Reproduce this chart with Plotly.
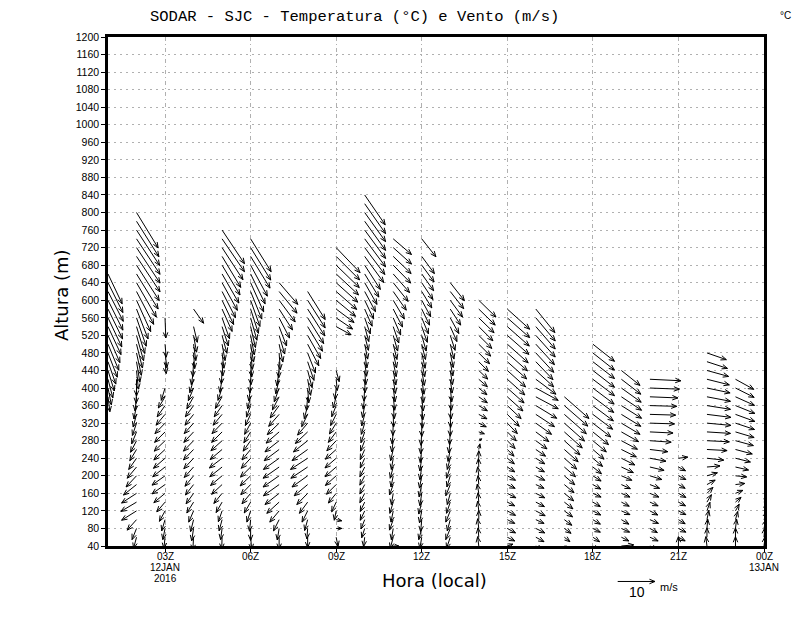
"""SODAR SJC wind profile (vectors by hour and height), GrADS-style look."""

import math

import plotly.graph_objects as go

# hour of each profile column (01Z 12JAN .. 00Z 13JAN = 24)
HOURS = [1, 2, 3, 4, 5, 6, 7, 8, 9, 10, 11, 12,
         13, 14, 15, 16, 17, 18, 19, 20, 21, 22, 23, 24]

# SODAR gate heights (m)
LEVELS_M = [40, 60, 80, 100, 120, 140, 160, 180, 200, 220, 240, 260, 280, 300,
            320, 340, 360, 380, 400, 420, 440, 460, 480, 500, 520, 540, 560,
            580, 600, 620, 640, 660, 680, 700, 720, 740, 760, 780, 800, 820, 840]

# lowest gate drawn in each column
COLUMN_BASE_M = [380, 40, 40, 40, 40, 40, 40, 40, 40, 40, 40, 40,
                 40, 40, 40, 40, 40, 40, 40, 40, 40, 40, 40, 40]

# u / v components (m/s), from the base gate upwards, None = no data
U01 = [0.5, 0.9, 1.3, 1.7, 2.1, 2.5, 2.9, 3.2, 3.5, 3.7, 3.9, 4.0, 4.1, 4.0, 3.8]
V01 = [-4.0, -4.5, -5.0, -5.5, -6.0, -6.5, -7.0, -7.3, -7.5, -7.8, -8.0, -8.0, -8.0, -8.0, -8.0]

U02 = [-0.5, -0.8, -1.2, -2.5, -4.0, -4.2, -4.0, -3.5, -2.8, -2.5, -2.1, -1.8, -1.6,
       -1.3, -1.1, -0.9, -0.7, -0.4, -0.1, 0.0, 0.5, 0.9, 1.3, 1.6, 1.9, 2.2, 2.6,
       3.1, 3.8, 4.6, 5.3, 5.8, 6.1, 6.3, 6.3, 6.3, 6.2, 6.0, 5.8]
V02 = [-3.0, -3.0, -3.0, -2.8, -2.5, -2.5, -2.6, -2.8, -3.0, -3.0, -3.0, -3.0, -3.1,
       -3.2, -3.3, -3.4, -3.6, -3.8, -4.1, -4.5, -5.0, -5.5, -6.0, -6.4, -6.8, -7.2,
       -7.6, -8.0, -8.4, -8.8, -9.2, -9.4, -9.5, -9.5, -9.5, -9.5, -9.5, -9.5, -9.5]

U03 = [-0.2, -0.3, -0.6, -0.9, -1.5, -2.2, -3.0, -3.5, -3.5, -3.3, -3.1, -3.0, -2.9,
       -2.8, -2.7, -2.4, -2.1, -1.8, -1.0, None, None, 0.3, 0.5, 0.3, None, None, 0.2]
V03 = [-3.0, -3.0, -3.0, -3.0, -2.8, -2.6, -2.5, -2.5, -2.5, -2.6, -2.7, -2.8, -2.8,
       -2.8, -2.8, -2.9, -3.0, -3.0, -3.3, None, None, -3.2, -4.0, -3.5, None, None, -5.4]

U04 = [0.0, -0.2, -0.5, -0.8, -1.3, -1.8, -2.0, -2.2, -2.3, -2.5, -2.6, -2.7, -2.7,
       -2.6, -2.5, -2.3, -2.2, -1.8, -1.4, -1.0, -0.6, -0.2, 0.3, 0.6, 0.8, 1.0, None, 2.7]
V04 = [-3.5, -3.5, -3.3, -3.2, -3.0, -2.9, -2.8, -2.8, -2.8, -2.8, -2.8, -2.8, -2.8,
       -2.8, -2.8, -2.9, -3.0, -3.2, -3.4, -3.6, -3.8, -4.0, -4.2, -4.4, -4.5, -4.2, None, -3.8]

U05 = [0.0, -0.1, -0.4, -0.8, -1.0, -1.6, -2.2, -2.8, -3.1, -3.3, -3.4, -3.2, -3.0,
       -2.8, -2.7, -2.4, -2.1, -1.8, -1.1, -0.6, -0.2, 0.2, 0.5, 0.8, 1.3, 1.7, 2.0,
       2.7, 3.1, 3.6, 4.1, 4.5, 4.8, 5.0, 5.6, 6.0, 6.0]
V05 = [-3.3, -3.2, -3.0, -3.0, -2.9, -2.8, -2.7, -2.6, -2.6, -2.6, -2.6, -2.7, -2.7,
       -2.8, -2.8, -2.9, -3.0, -3.1, -3.3, -3.5, -3.6, -3.8, -4.1, -4.4, -4.8, -5.2,
       -5.6, -6.0, -6.5, -7.0, -7.4, -7.8, -8.0, -8.3, -8.6, -8.8, -9.0]

U06 = [0.2, 0.3, 0.0, -0.3, -1.0, -1.7, -2.3, -2.6, -2.8, -2.7, -2.5, -2.3, -2.0,
       -1.8, -1.6, -1.4, -1.1, -0.8, -0.5, -0.2, 0.1, 0.3, 0.5, 0.8, 1.0, 1.3, 1.7,
       2.1, 2.5, 3.0, 3.5, 3.9, 4.5, 5.2, 5.4, 5.5]
V06 = [-3.3, -3.3, -3.2, -3.1, -3.0, -2.9, -2.8, -2.7, -2.7, -2.7, -2.7, -2.8, -2.8,
       -2.9, -3.0, -3.0, -3.1, -3.2, -3.4, -3.6, -3.8, -4.1, -4.4, -4.8, -5.2, -5.6,
       -6.0, -6.5, -7.0, -7.4, -7.8, -8.0, -8.3, -8.5, -8.7, -8.8]

U07 = [0.3, 0.0, -0.5, -1.5, -2.5, -3.3, -3.8, -4.2, -4.3, -4.3, -4.2, -4.0, -3.8,
       -3.5, -3.2, -2.8, -2.4, -1.8, -1.3, -0.9, -0.6, -0.1, 0.3, 1.0, 1.5, 2.0, 2.8,
       3.6, 4.3, 4.8, 5.0]
V07 = [-3.2, -3.2, -3.1, -3.0, -3.0, -3.0, -3.0, -3.0, -3.0, -3.0, -3.0, -3.0, -3.0,
       -3.0, -3.1, -3.2, -3.3, -3.5, -3.7, -3.9, -4.1, -4.3, -4.5, -4.8, -5.0, -5.2,
       -5.4, -5.6, -5.8, -5.8, -5.8]

U08 = [0.2, 0.0, -0.2, -0.8, -1.5, -2.2, -2.9, -3.6, -4.2, -4.5, -4.6, -4.2, -3.8,
       -3.3, -2.7, -1.6, -0.9, -0.3, 0.3, 0.8, 1.2, 1.7, 2.1, 3.0, 3.5, 4.0, 4.3,
       4.6, 4.7, 4.7]
V08 = [-2.8, -2.8, -2.8, -2.9, -3.0, -3.0, -3.0, -3.0, -3.0, -3.0, -3.0, -3.0, -3.0,
       -3.1, -3.2, -3.3, -3.5, -3.7, -4.0, -4.3, -4.6, -5.0, -5.4, -5.8, -6.2, -6.6,
       -6.9, -7.2, -7.4, -7.5]

U09 = [0.3, 0.5, 1.5, 1.5, -0.5, -1.2, -2.1, -2.6, -2.9, -3.0, -3.0, -2.9, -2.5,
       -2.1, -1.8, -1.5, -1.2, -0.8, -0.3, 0.3, 0.8, None, None, None, None, 4.0,
       4.4, 4.8, 5.2, 5.5, 5.8, 6.0, 6.2, 6.3, 6.4]
V09 = [-2.5, -2.5, 0.0, -0.3, -2.5, -2.6, -2.6, -2.6, -2.6, -2.6, -2.6, -2.6, -2.7,
       -2.8, -2.9, -3.0, -3.0, -3.0, -3.0, -3.0, -3.0, None, None, None, None, -2.2,
       -3.0, -3.6, -4.3, -4.8, -5.2, -5.6, -6.0, -6.3, -6.7]

U10 = [0.5, -0.3, -0.8, -1.0, -1.2, -1.2, -1.3, -1.3, -1.3, -1.3, -1.2, -1.2, -1.1,
       -1.0, -0.9, -0.8, -0.6, -0.4, -0.2, 0.1, 0.3, 0.5, 0.6, 0.8, 1.0, 1.1, 1.5,
       2.0, 2.4, 2.9, 3.3, 3.8, 4.2, 5.1, 5.4, 5.6, 5.6, 5.6, 5.6, 5.6, 5.5]
V10 = [-2.5, -2.5, -2.5, -2.5, -2.5, -2.5, -2.5, -2.5, -2.5, -2.6, -2.6, -2.7, -2.8,
       -2.9, -3.0, -3.1, -3.2, -3.3, -3.5, -3.6, -3.8, -3.9, -4.0, -4.0, -4.0, -4.0,
       -4.3, -4.6, -5.0, -5.4, -5.8, -6.2, -6.5, -7.0, -7.2, -7.5, -7.6, -7.8, -7.8,
       -8.0, -8.0]

U11 = [1.5, -0.8, -0.5, -1.0, -0.6, -0.9, -0.5, -1.0, -0.6, -0.8, -0.5, -0.7, -0.4,
       -0.3, -0.1, 0.1, 0.3, 0.4, 0.5, 0.6, 0.7, 0.8, 0.9, 1.0, 1.2, 1.5, 2.0, 2.5,
       3.0, 3.5, 4.0, 4.4, 4.7, 4.8, 4.9, 4.9]
V11 = [0.0, -3.0, -3.0, -2.8, -3.0, -3.0, -3.0, -2.8, -3.0, -3.0, -3.0, -3.0, -3.0,
       -3.2, -3.3, -3.4, -3.5, -3.6, -3.7, -3.8, -3.9, -4.0, -4.0, -4.1, -4.2, -4.4,
       -4.6, -4.8, -5.0, -5.0, -5.0, -5.0, -4.8, -4.6, -4.4, -4.2]

U12 = [0.0, -0.5, -0.8, -0.3, -0.6, -0.8, -0.5, -0.7, -0.6, -0.5, -0.5, -0.4, -0.3,
       -0.2, 0.0, 0.2, 0.3, 0.4, 0.5, 0.6, 0.7, 0.8, 0.9, 1.0, 1.2, 1.5, 1.8, 2.1,
       2.4, 2.7, 3.0, 3.2, 3.3, 3.4, None, 3.8]
V12 = [-3.0, -3.0, -3.0, -3.2, -3.2, -3.2, -3.3, -3.3, -3.3, -3.4, -3.4, -3.5, -3.5,
       -3.6, -3.6, -3.7, -3.8, -3.8, -3.9, -4.0, -4.0, -4.0, -4.1, -4.1, -4.2, -4.2,
       -4.3, -4.3, -4.4, -4.4, -4.5, -4.5, -4.5, -4.6, None, -4.8]

U13 = [0.5, -1.0, -1.2, -0.8, -1.2, -1.0, -0.8, -1.2, -0.9, -1.0, -0.8, -0.6, -0.4,
       -0.2, 0.0, 0.1, 0.2, 0.3, 0.4, 0.5, 0.6, 0.7, 0.8, 1.0, 1.3, 1.8, 2.3, 2.8,
       3.3, 3.6, 3.8]
V13 = [-2.5, -3.0, -3.0, -3.0, -3.0, -3.0, -3.0, -3.0, -3.0, -3.0, -3.0, -3.2, -3.3,
       -3.4, -3.5, -3.5, -3.6, -3.6, -3.7, -3.7, -3.8, -3.8, -3.9, -4.0, -4.0, -4.0,
       -4.2, -4.3, -4.5, -4.6, -4.8]

U14 = [-0.3, -0.2, -0.3, 0.0, -0.3, -0.2, -0.4, -0.2, -0.3, -0.1, 0.0, 0.3, 0.8,
       1.5, 2.0, 2.2, 2.3, 2.3, 2.2, 2.3, 2.4, 2.6, 2.9, 3.2, 3.5, 3.8, 4.1, 4.4, 4.6]
V14 = [2.5, 2.5, 2.6, 2.5, 2.6, 2.5, 2.5, 2.4, 2.4, 2.3, 2.0, 1.5, 0.5, -0.5, -1.0,
       -1.2, -1.4, -1.6, -1.8, -2.0, -2.3, -2.6, -2.9, -3.2, -3.5, -3.8, -4.0, -4.3, -4.5]

U15 = [1.5, 2.0, 2.2, 2.0, 2.2, 2.0, 2.3, 2.1, 2.2, 2.0, 1.9, 1.8, 2.1, 2.4, 2.7,
       3.2, 3.7, 4.2, 4.5, 4.7, 4.9, 5.2, 5.4, 5.6, 5.8, 5.9, 6.0, 6.0]
V15 = [0.5, -1.0, -1.2, -1.0, -1.2, -1.0, -1.2, -1.0, -1.2, -1.3, -1.5, -1.8, -2.1,
       -2.4, -2.8, -3.2, -3.5, -3.8, -4.0, -4.2, -4.4, -4.6, -4.8, -5.0, -5.1, -5.2,
       -5.3, -5.4]

U16 = [1.8, 2.2, 2.4, 2.2, 2.5, 2.3, 2.4, 2.2, 2.4, 2.3, 2.4, 2.6, 3.0, 3.5, 4.2,
       5.0, 5.6, 6.0, 6.0, 5.4, 4.8, 4.6, 4.8, 5.0, 5.2, 5.2, 5.2, 5.1]
V16 = [-1.0, -1.2, -1.2, -1.0, -1.3, -1.2, -1.2, -1.0, -1.2, -1.3, -1.5, -1.8, -2.2,
       -2.6, -3.0, -3.3, -3.4, -3.2, -3.3, -4.0, -4.4, -4.8, -5.2, -5.5, -5.8, -6.0,
       -6.2, -6.3]

U17 = [1.0, 1.5, 1.8, 2.0, 2.2, 2.3, 2.5, 2.6, 2.8, 3.0, 3.3, 3.7, 4.2, 4.8, 5.4,
       5.9, 6.3, 6.6]
V17 = [-0.5, -1.2, -1.3, -1.5, -1.6, -1.8, -2.0, -2.2, -2.4, -2.6, -2.9, -3.3, -3.8,
       -4.3, -4.8, -5.2, -5.5, -5.8]

U18 = [1.5, 1.8, 2.0, 2.0, 2.1, 2.0, 2.2, 2.1, 2.2, 2.3, 2.6, 3.0, 3.6, 4.2, 4.8,
       5.3, 5.5, 5.6, 5.7, 5.8, 5.8, 5.8, 5.8, 5.8]
V18 = [-1.0, -1.2, -1.0, -1.2, -1.1, -1.2, -1.0, -1.2, -1.4, -1.8, -2.2, -2.6, -3.0,
       -3.4, -3.7, -4.0, -4.1, -4.2, -4.3, -4.4, -4.5, -4.5, -4.6, -4.6]

U19 = [3.3, 2.0, 2.2, 2.0, 2.3, 2.1, 2.3, 2.4, 2.8, 3.2, 3.6, 4.0, 4.3, 4.6, 5.0,
       5.2, 5.4, 5.4, 5.3, 5.2, 5.0]
V19 = [0.3, -1.0, -1.0, -1.2, -1.0, -1.1, -1.0, -1.1, -1.2, -1.5, -1.8, -2.0, -2.3,
       -2.6, -3.0, -3.2, -3.4, -3.6, -3.8, -4.0, -4.0]

U20 = [2.0, 2.2, 2.0, 2.3, 2.1, 2.2, 2.4, 2.6, 3.2, 3.8, 4.3, 4.8, 5.7, 6.2, 6.6,
       6.9, 7.2, 7.5, 7.9, 8.3]
V20 = [-1.0, -1.0, -1.1, -1.0, -1.1, -1.0, -1.0, -1.0, -1.0, -0.9, -0.8, -0.6, -0.4,
       -0.3, -0.2, -0.2, -0.2, -0.3, -0.3, -0.4]

U21 = [0.0, 1.8, 2.0, 1.8, 2.0, 1.9, 2.0, 1.8, 2.0, 1.9, 2.5]
V21 = [2.5, -1.0, -1.0, -1.1, -1.0, -1.0, -1.1, -1.0, -1.0, -1.0, 0.3]

U22 = [-0.3, 0.0, 0.2, 0.5, 0.8, 1.2, 1.6, 2.2, 2.8, 3.5, 4.5, 5.4, 6.0, 6.3, 6.4,
       6.4, 6.3, 6.3, 6.2, 6.0, 5.8, 5.5, 5.2]
V22 = [2.5, 2.5, 2.5, 2.5, 2.3, 2.0, 1.6, 1.2, 0.8, 0.3, -0.5, -0.3, -0.3, -0.4,
       -0.6, -0.8, -1.0, -1.2, -1.3, -1.5, -1.6, -1.8, -1.8]

U23 = [0.0, 0.0, 0.3, 0.6, 1.0, 1.5, 2.0, 2.5, 3.0, 3.5, 4.0, 4.5, 4.8, 5.0, 5.1,
       5.2, 5.2, 5.1, 5.0, 4.9]
V23 = [2.5, 2.5, 2.5, 2.2, 1.8, 1.3, 0.8, 0.3, -0.3, -0.8, -1.0, -1.2, -1.3, -1.5,
       -1.7, -1.9, -2.1, -2.3, -2.5, -2.7]

U24 = [0.3, 0.2, 0.5, 0.8, 1.0, 1.2, 1.5, 1.8]
V24 = [2.5, 2.5, 2.4, 2.2, 2.0, 1.8, 1.5, 1.2]

U_COLUMNS = [U01, U02, U03, U04, U05, U06, U07, U08, U09, U10, U11, U12,
             U13, U14, U15, U16, U17, U18, U19, U20, U21, U22, U23, U24]
V_COLUMNS = [V01, V02, V03, V04, V05, V06, V07, V08, V09, V10, V11, V12,
             V13, V14, V15, V16, V17, V18, V19, V20, V21, V22, V23, V24]

# x labels: one list per text line under each tick
XTICK_VALS = [3, 6, 9, 12, 15, 18, 21, 24]
XTICK_LINE1 = ["03Z", "06Z", "09Z", "12Z", "15Z", "18Z", "21Z", "00Z"]
XTICK_LINE2 = ["12JAN", "", "", "", "", "", "", "13JAN"]
XTICK_LINE3 = ["2016", "", "", "", "", "", "", ""]
YTICK_VALS = [40, 80, 120, 160, 200, 240, 280, 320, 360, 400, 440, 480, 520, 560,
              600, 640, 680, 720, 760, 800, 840, 880, 920, 960, 1000, 1040, 1080,
              1120, 1160, 1200]
REF_SPEED = 10  # m/s, reference vector

# layout, in window pixels (the page body adds an 8 px margin)
WIDTH, HEIGHT = 800, 618
PAGE_OFFSET = 8
PLOT_LEFT, PLOT_TOP = 108, 37
PLOT_W, PLOT_H = 656, 509
X_RANGE = (1, 24)
Y_RANGE = (40, 1200)
PX_PER_MS = 3.73       # vector length scale
HEAD_PX = 6.0
HEAD_ANG = math.radians(22)

M_L = PLOT_LEFT - PAGE_OFFSET
M_T = PLOT_TOP - PAGE_OFFSET
M_R = WIDTH - M_L - PLOT_W
M_B = HEIGHT - M_T - PLOT_H
PLOT_BOTTOM = PLOT_TOP + PLOT_H

px_per_hour = PLOT_W / (X_RANGE[1] - X_RANGE[0])
px_per_m = PLOT_H / (Y_RANGE[1] - Y_RANGE[0])


def arrow_px(u, v):
    """Shaft and barbs of one vector, in pixels relative to the tail."""
    dx, dy = u * PX_PER_MS, v * PX_PER_MS
    length = math.hypot(dx, dy)
    if length < 0.5:
        return None
    ang = math.atan2(dy, dx)
    head = min(HEAD_PX, 0.8 * length)
    barbs = [(dx - head * math.cos(ang + s * HEAD_ANG),
              dy - head * math.sin(ang + s * HEAD_ANG)) for s in (-1, 1)]
    return (dx, dy), barbs


xs, ys = [], []
for hour, base, u_col, v_col in zip(HOURS, COLUMN_BASE_M, U_COLUMNS, V_COLUMNS):
    assert len(u_col) == len(v_col), hour
    start = LEVELS_M.index(base)
    for height, u, v in zip(LEVELS_M[start:start + len(u_col)], u_col, v_col):
        if u is None or v is None:
            continue
        arrow = arrow_px(u, v)
        if arrow is None:
            continue
        (hx, hy), barbs = arrow

        def to_data(px, py):
            return hour + px / px_per_hour, height + py / px_per_m

        tail = (hour, height)
        tip = to_data(hx, hy)
        b1, b2 = to_data(*barbs[0]), to_data(*barbs[1])
        for p in (tail, tip, None, b1, tip, b2, None):
            xs.append(None if p is None else p[0])
            ys.append(None if p is None else p[1])

fig = go.Figure()
fig.add_trace(
    go.Scatter(
        x=xs,
        y=ys,
        mode="lines",
        line=dict(color="black", width=1),
        hoverinfo="skip",
        showlegend=False,
    )
)


def paper_x(px):
    return (px - PLOT_LEFT) / PLOT_W


def paper_y(py):
    return (PLOT_BOTTOM - py) / PLOT_H


# reference vector under the plot (x in hours, y in paper units)
ref_tail_x = X_RANGE[0] + (617.7 - PLOT_LEFT) / px_per_hour
ref_y = paper_y(581.5)
(ref_hx, ref_hy), ref_barbs = arrow_px(REF_SPEED, 0)
ref_tip_x = ref_tail_x + ref_hx / px_per_hour
ref_path = "M {:.4f},{:.4f} L {:.4f},{:.4f}".format(ref_tail_x, ref_y, ref_tip_x, ref_y)
for bx, by in ref_barbs:
    ref_path += " M {:.4f},{:.4f} L {:.4f},{:.4f}".format(
        ref_tip_x, ref_y, ref_tail_x + bx / px_per_hour, ref_y + by / PLOT_H)
fig.add_shape(type="path", xref="x", yref="paper", path=ref_path,
              line=dict(color="black", width=1))

font_lbl = "Liberation Sans, Arial, sans-serif"
font_ttl = "DejaVu Sans, sans-serif"

annotations = [
    dict(text="SODAR - SJC - Temperatura (°C) e Vento (m/s)", x=paper_x(354),
         y=paper_y(17), font=dict(size=15.5, family="Liberation Mono, monospace")),
    dict(text="°C", x=paper_x(785), y=paper_y(15), font=dict(size=10, family=font_lbl)),
    dict(text="Altura (m)", x=paper_x(61), y=paper_y(295), textangle=-90,
         font=dict(size=18, family=font_ttl)),
    dict(text="Hora (local)", x=paper_x(434), y=paper_y(580),
         font=dict(size=18, family=font_ttl)),
    dict(text="10", x=paper_x(637), y=paper_y(592), font=dict(size=14, family=font_lbl)),
    dict(text="m/s", x=paper_x(669), y=paper_y(587), font=dict(size=11, family=font_lbl)),
]
for a in annotations:
    a.update(xref="paper", yref="paper")

# tick labels drawn as text rows so the line spacing follows the original
for lines, row_y in ((XTICK_LINE1, 556), (XTICK_LINE2, 567.5), (XTICK_LINE3, 578)):
    for xv, txt in zip(XTICK_VALS, lines):
        if txt:
            annotations.append(dict(text=txt, x=xv, y=paper_y(row_y), xref="x",
                                    yref="paper", font=dict(size=10, family=font_lbl)))

for a in annotations:
    a.update(showarrow=False, xanchor="center", yanchor="middle")

fig.update_layout(
    width=WIDTH,
    height=HEIGHT,
    margin=dict(l=M_L, r=M_R, t=M_T, b=M_B, pad=0),
    paper_bgcolor="white",
    plot_bgcolor="white",
    annotations=annotations,
    font=dict(family=font_lbl, size=10.5, color="black"),
)
fig.update_xaxes(
    range=list(X_RANGE),
    tickvals=XTICK_VALS,
    showticklabels=False,
    ticks="outside",
    ticklen=3,
    tickcolor="black",
    showgrid=True,
    gridcolor="#b0b0b0",
    griddash="4px,3px,1px,3px",
    gridwidth=1,
    showline=True,
    linecolor="black",
    linewidth=2.5,
    mirror=True,
    zeroline=False,
)
fig.update_yaxes(
    range=list(Y_RANGE),
    tickvals=YTICK_VALS,
    ticks="outside",
    ticklen=4,
    tickcolor="black",
    showgrid=True,
    gridcolor="#b0b0b0",
    griddash="2px,4px",
    gridwidth=1,
    showline=True,
    linecolor="black",
    linewidth=2.5,
    mirror=True,
    zeroline=False,
    tickfont=dict(size=10.5),
)

fig.write_html("out.html")
